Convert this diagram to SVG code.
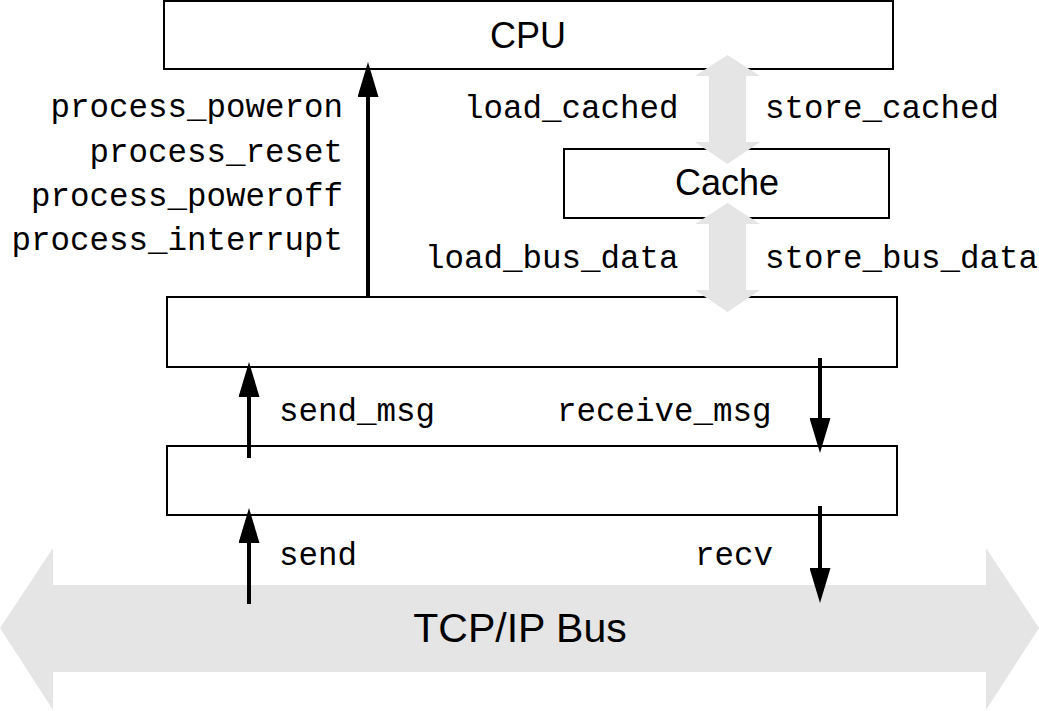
<svg xmlns="http://www.w3.org/2000/svg" width="1039" height="711" viewBox="0 0 1039 711">
<style>
.box{fill:#fff;stroke:#000;stroke-width:2}
.fat{fill:#e5e5e5;stroke:none}
.conn{stroke:#000;stroke-width:4;fill:none;marker-end:url(#ah)}
.mono{font-family:"Liberation Mono","DejaVu Sans Mono",monospace;font-size:32.5px;fill:#000}
.sans{font-family:"Liberation Sans",Arial,sans-serif;fill:#000;text-anchor:middle}
</style>
<defs>
<marker id="ah" viewBox="0 0 35 21" refX="5" refY="10.5" markerWidth="35" markerHeight="21" markerUnits="userSpaceOnUse" orient="auto">
<path d="M0,0 L35,10.5 L0,21 z" fill="#000"/>
</marker>
</defs>
<rect width="1039" height="711" fill="#fff"/>
<g id="bus">
<polygon class="fat" points="0,628 53,548 53,585 986,585 986,548 1039,628 986,710 986,672 53,672 53,710"/>
<text class="sans" x="520" y="642" font-size="41">TCP/IP Bus</text>
</g>
<g id="cpu">
<rect class="box" x="164" y="1" width="729" height="68"/>
<text class="sans" x="528" y="48" font-size="36">CPU</text>
</g>
<g id="cache">
<rect class="box" x="564" y="149" width="325" height="69"/>
<text class="sans" x="727" y="195" font-size="36">Cache</text>
</g>
<g id="layer1">
<rect class="box" x="167" y="297" width="730" height="70"/>
</g>
<g id="layer2">
<rect class="box" x="167" y="446" width="730" height="69"/>
</g>
<g id="connectors">
<polygon class="fat" points="727.5,55 760,76 746,76 746,142 760,142 727.5,164 695,142 709,142 709,76 695,76"/>
<polygon class="fat" points="727.5,203 760,224 746,224 746,290 760,290 727.5,312 695,290 709,290 709,224 695,224"/>
<line class="conn" x1="368" y1="297" x2="368" y2="92"/>
<line class="conn" x1="249" y1="458" x2="249" y2="392"/>
<line class="conn" x1="249" y1="604" x2="249" y2="538"/>
<line class="conn" x1="820" y1="358" x2="820" y2="423"/>
<line class="conn" x1="820" y1="506" x2="820" y2="573"/>
</g>
<g id="labels">
<text class="mono" x="343" y="117" text-anchor="end">process_poweron</text>
<text class="mono" x="343" y="162" text-anchor="end">process_reset</text>
<text class="mono" x="343" y="206" text-anchor="end">process_poweroff</text>
<text class="mono" x="343" y="250" text-anchor="end">process_interrupt</text>
<text class="mono" x="464" y="118">load_cached</text>
<text class="mono" x="765" y="118">store_cached</text>
<text class="mono" x="425" y="268">load_bus_data</text>
<text class="mono" x="765" y="268">store_bus_data</text>
<text class="mono" x="279" y="421">send_msg</text>
<text class="mono" x="557" y="421">receive_msg</text>
<text class="mono" x="279" y="565">send</text>
<text class="mono" x="695" y="565">recv</text>
</g>
</svg>
